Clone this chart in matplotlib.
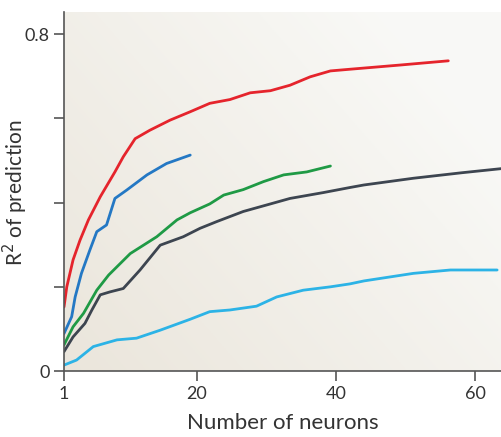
import numpy as np
import matplotlib
matplotlib.use("Agg")
import matplotlib.pyplot as plt

plt.rcParams['font.family'] = ['Lato', 'DejaVu Sans']

# values
red_x = [1, 1.4, 2.3, 3.3, 4.5, 6.2, 8.3, 9.5, 11.2, 13.3, 16.2, 19.1, 21.9, 24.8, 27.7,
         30.6, 33.4, 36.3, 39.2, 42.0, 49.2, 56.1]
red_y = [0.152, 0.200, 0.264, 0.311, 0.359, 0.414, 0.473, 0.509, 0.552, 0.572, 0.596, 0.616,
         0.636, 0.645, 0.661, 0.666, 0.679, 0.699, 0.713, 0.717, 0.727, 0.737]

blue_x = [1, 2.1, 2.6, 3.5, 4.7, 5.7, 7.1, 8.3, 10.0, 12.9, 15.7, 19.1]
blue_y = [0.089, 0.129, 0.176, 0.232, 0.287, 0.331, 0.347, 0.410, 0.430, 0.466, 0.493, 0.513]

green_x = [1, 2.3, 3.8, 5.7, 7.4, 10.5, 14.3, 17.2, 19.1, 21.9, 23.9, 26.7, 29.6, 32.5,
           35.8, 39.2]
green_y = [0.062, 0.105, 0.137, 0.192, 0.228, 0.279, 0.319, 0.359, 0.376, 0.397, 0.418,
           0.431, 0.450, 0.466, 0.473, 0.487]

gray_x = [1, 2.3, 4.0, 5.0, 6.2, 7.6, 9.5, 11.9, 14.8, 18.1, 20.5, 22.9, 26.7, 30.6, 33.4,
          38.2, 42.0, 44.0, 51.1, 58.0, 63.8]
gray_y = [0.046, 0.081, 0.113, 0.145, 0.181, 0.188, 0.196, 0.240, 0.299, 0.319, 0.339,
          0.355, 0.379, 0.397, 0.410, 0.424, 0.436, 0.442, 0.458, 0.471, 0.481]

cyan_x = [1, 2.8, 5.2, 8.6, 11.4, 14.8, 19.1, 21.9, 24.8, 28.6, 31.5, 35.3, 39.2, 42.0,
          44.0, 51.1, 56.4, 63.1]
cyan_y = [0.014, 0.026, 0.058, 0.074, 0.078, 0.097, 0.123, 0.141, 0.145, 0.154, 0.176,
          0.192, 0.200, 0.207, 0.214, 0.232, 0.240, 0.240]

xticks = [1, 20, 40, 60]
yticks = [0, 0.2, 0.4, 0.6, 0.8]
ytick_labels = ['0', '', '', '', '0.8']

fig = plt.figure(figsize=(5.02, 4.37), dpi=100)
ax = fig.add_axes([64 / 502, 1 - 371 / 437, 1 - 64 / 502, (371 - 12) / 437])

# soft beige gradient background
gx, gy = np.meshgrid(np.linspace(0, 1, 200), np.linspace(0, 1, 200))
t = np.clip((gx * 0.7 + gy * 0.5), 0, 1)
c0 = np.array([0.92, 0.90, 0.86])
c1 = np.array([0.975, 0.975, 0.965])
img = c0[None, None, :] * (1 - t[..., None]) + c1[None, None, :] * t[..., None]
ax.imshow(img, extent=[0, 1, 0, 1], transform=ax.transAxes, origin='lower',
          aspect='auto', zorder=0)

lw = 2.0
kw = dict(lw=lw, zorder=2, solid_joinstyle='round', solid_capstyle='round')
ax.plot(cyan_x, cyan_y, color='#2cb3e6', **kw)
ax.plot(gray_x, gray_y, color='#3d4550', **kw)
ax.plot(green_x, green_y, color='#1f9a45', **kw)
ax.plot(blue_x, blue_y, color='#2478c4', **kw)
ax.plot(red_x, red_y, color='#e5242c', **kw)

ax.set_xlim(1, 63.8)
ax.set_ylim(0, 0.853)
ax.set_xticks(xticks)
ax.set_yticks(yticks)
ax.set_yticklabels(ytick_labels)

for s in ['top', 'right']:
    ax.spines[s].set_visible(False)
for s in ['left', 'bottom']:
    ax.spines[s].set_color('#555555')
    ax.spines[s].set_linewidth(1.2)

ax.tick_params(direction='out', length=7, width=1.2, color='#555555',
               labelsize=13, labelcolor='#333333')
ax.set_xlabel('Number of neurons', fontsize=16, color='#333333', labelpad=8)
ax.set_ylabel('R$^2$ of prediction', fontsize=15, color='#333333')
ax.yaxis.set_label_coords(-0.078, 0.496)

fig.savefig('out.png', dpi=100)
